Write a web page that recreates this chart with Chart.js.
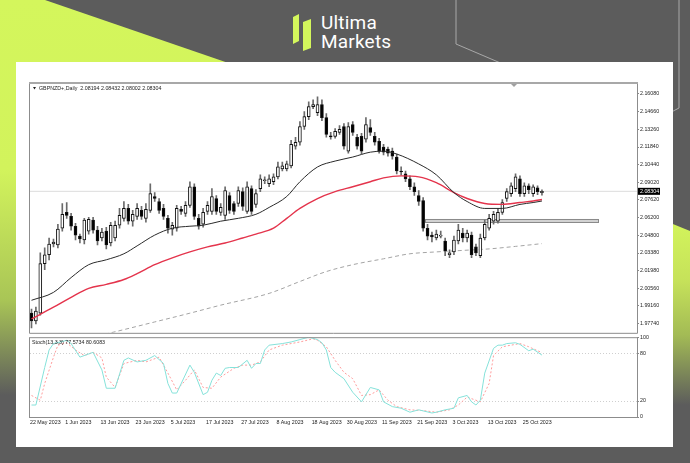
<!DOCTYPE html>
<html><head><meta charset="utf-8">
<script src="https://cdn.jsdelivr.net/npm/chart.js@4.4.0/dist/chart.umd.min.js"></script>
<style>
html,body{margin:0;padding:0;width:690px;height:463px;overflow:hidden;background:#5c5c5c;position:relative;font-family:'Liberation Sans',Arial,sans-serif}
#gl{position:absolute;left:0;top:0;width:690px;height:463px;background:linear-gradient(to bottom,#d4f65c 0px,#d2f35c 170px,#a9c556 300px,#5c5c5c 395px);clip-path:polygon(0 0,45px 0,260px 74px,260px 463px,0 463px)}
#gr{position:absolute;left:0;top:0;width:690px;height:463px;background:linear-gradient(to bottom,#d4f65c 215px,#c6e25a 280px,#a3bb55 335px,#5c5c5c 405px);clip-path:polygon(560px 178px,690px 231px,690px 463px,560px 463px)}
#deco{position:absolute;left:0;top:0}
#panel{position:absolute;left:16px;top:62px;width:657px;height:385px;background:#fff}
#c1{position:absolute;left:16px;top:62px}
#c2{position:absolute;left:16px;top:333px}
.lg{position:absolute;left:321px;color:#fff;font-family:Roboto,'Open Sans',sans-serif;font-size:19px;line-height:19px;letter-spacing:0.2px}
</style></head>
<body>
<div id="gl"></div><div id="gr"></div>
<svg id="deco" width="690" height="463">
<polyline points="456,0 456,44 545,82" fill="none" stroke="#a8a8a8" stroke-width="1"/>
<polyline points="679,0 679,108 660,118" fill="none" stroke="#a8a8a8" stroke-width="1"/>
<polygon points="293,17 299,14 299,41 293,44" fill="#d4f65c"/>
<polygon points="303,22 311,19 311,48 303,51" fill="#d4f65c"/>
</svg>
<div class="lg" style="top:13px">Ultima</div>
<div class="lg" style="top:32px">Markets</div>
<div id="panel"></div>
<canvas id="c1" width="657" height="275" style="width:657px;height:275px"></canvas>
<canvas id="c2" width="657" height="114" style="width:657px;height:114px"></canvas>
<script>
// ---------- data ----------
const symbolTitle = 'GBPNZD+,Daily  2.08194 2.08432 2.08002 2.08304';
const stochTitle = 'Stoch(13,3,3) 77.5734 80.6083';
const tickIndex = [0,8,16,24,32,40,48,56,64,72,80,88,96,104,112];
const tickLabels = ['22 May 2023','1 Jun 2023','13 Jun 2023','23 Jun 2023','5 Jul 2023','17 Jul 2023','27 Jul 2023','8 Aug 2023','18 Aug 2023','30 Aug 2023','11 Sep 2023','21 Sep 2023','3 Oct 2023','13 Oct 2023','25 Oct 2023'];
const priceTicks = [2.16080,2.14660,2.13260,2.11840,2.10440,2.09020,2.07620,2.06200,2.04800,2.03380,2.01980,2.00560,1.99160,1.97740];
const stochTicks = [0,20,80,100];
const lastPrice = 2.08304;

const opens = [1.9859,1.9796,1.9859,2.0253,2.0324,2.0410,2.0403,2.0536,2.0663,2.0631,
2.0552,2.0473,2.0442,2.0513,2.0600,2.0521,2.0458,2.0513,2.0418,2.0458,
2.0560,2.0615,2.0694,2.0592,2.0631,2.0678,2.0615,2.0678,2.0789,2.0749,
2.0694,2.0615,2.0529,2.0536,2.0686,2.0655,2.0718,2.0867,2.0615,2.0568,
2.0670,2.0670,2.0773,2.0663,2.0639,2.0797,2.0733,2.0733,2.0828,2.0670,
2.0852,2.0726,2.0852,2.0915,2.0891,2.0907,2.0946,2.1009,2.1009,2.1033,
2.1191,2.1222,2.1348,2.1427,2.1506,2.1458,2.1522,2.1419,2.1269,2.1269,
2.1301,2.1348,2.1151,2.1364,2.1262,2.1269,2.1246,2.1340,2.1269,2.1230,
2.1183,2.1167,2.1151,2.1104,2.0993,2.0970,2.0930,2.0867,2.0797,2.0757,
2.0536,2.0481,2.0458,2.0473,2.0434,2.0324,2.0347,2.0434,2.0497,2.0458,
2.0481,2.0387,2.0316,2.0458,2.0536,2.0592,2.0592,2.0663,2.0773,2.0812,
2.0852,2.0930,2.0812,2.0875,2.0812,2.0859,2.08194];
const highs = [1.9890,1.9906,2.0339,2.0379,2.0458,2.0450,2.0568,2.0733,2.0741,2.0655,
2.0576,2.0489,2.0615,2.0623,2.0623,2.0552,2.0536,2.0544,2.0584,2.0592,
2.0694,2.0749,2.0726,2.0678,2.0733,2.0710,2.0733,2.0891,2.0820,2.0773,
2.0726,2.0639,2.0584,2.0718,2.0710,2.0749,2.0907,2.0891,2.0647,2.0694,
2.0749,2.0852,2.0797,2.0733,2.0867,2.0820,2.0749,2.0867,2.0859,2.0907,
2.0875,2.0844,2.0962,2.0946,2.0962,2.0970,2.1064,2.1064,2.1072,2.1238,
2.1262,2.1388,2.1466,2.1545,2.1561,2.1584,2.1561,2.1451,2.1301,2.1332,
2.1356,2.1372,2.1380,2.1388,2.1285,2.1293,2.1419,2.1403,2.1301,2.1254,
2.1206,2.1183,2.1175,2.1128,2.1025,2.0993,2.0954,2.0899,2.0836,2.0781,
2.0568,2.0505,2.0521,2.0513,2.0458,2.0363,2.0473,2.0568,2.0536,2.0521,
2.0505,2.0410,2.0489,2.0600,2.0647,2.0670,2.0694,2.0765,2.0852,2.0899,
2.0970,2.0954,2.0899,2.0891,2.0883,2.0875,2.08432];
const lows = [1.9741,1.9772,1.9843,2.0206,2.0284,2.0387,2.0379,2.0513,2.0615,2.0521,
2.0442,2.0418,2.0410,2.0489,2.0497,2.0403,2.0434,2.0371,2.0395,2.0434,
2.0536,2.0592,2.0568,2.0552,2.0607,2.0607,2.0584,2.0663,2.0749,2.0655,
2.0607,2.0497,2.0481,2.0513,2.0647,2.0631,2.0702,2.0607,2.0529,2.0544,
2.0647,2.0647,2.0647,2.0639,2.0607,2.0655,2.0647,2.0710,2.0678,2.0655,
2.0647,2.0702,2.0828,2.0891,2.0867,2.0883,2.0930,2.0993,2.0993,2.1017,
2.1167,2.1198,2.1325,2.1403,2.1490,2.1435,2.1395,2.1262,2.1246,2.1254,
2.1285,2.1167,2.1135,2.1277,2.1167,2.1128,2.1222,2.1277,2.1198,2.1135,
2.1120,2.1112,2.1088,2.0970,2.0962,2.0907,2.0844,2.0797,2.0718,2.0513,
2.0442,2.0426,2.0442,2.0458,2.0316,2.0300,2.0324,2.0410,2.0426,2.0426,
2.0300,2.0316,2.0300,2.0442,2.0521,2.0568,2.0576,2.0647,2.0749,2.0789,
2.0828,2.0789,2.0789,2.0812,2.0789,2.0804,2.08002];
const closes = [1.9796,1.9875,2.0253,2.0324,2.0410,2.0426,2.0529,2.0647,2.0639,2.0552,
2.0481,2.0450,2.0600,2.0607,2.0521,2.0434,2.0505,2.0403,2.0560,2.0560,
2.0639,2.0694,2.0592,2.0647,2.0694,2.0631,2.0686,2.0812,2.0773,2.0678,
2.0631,2.0536,2.0560,2.0694,2.0670,2.0718,2.0867,2.0631,2.0552,2.0663,
2.0718,2.0789,2.0670,2.0702,2.0836,2.0678,2.0670,2.0836,2.0710,2.0867,
2.0670,2.0812,2.0930,2.0922,2.0930,2.0946,2.1025,2.1033,2.1049,2.1206,
2.1222,2.1348,2.1427,2.1506,2.1522,2.1522,2.1419,2.1285,2.1265,2.1309,
2.1325,2.1191,2.1348,2.1301,2.1191,2.1151,2.1364,2.1301,2.1222,2.1151,
2.1143,2.1135,2.1112,2.0993,2.0985,2.0930,2.0867,2.0828,2.0749,2.0536,
2.0473,2.0466,2.0489,2.0481,2.0355,2.0339,2.0442,2.0521,2.0458,2.0497,
2.0324,2.0339,2.0458,2.0568,2.0615,2.0647,2.0663,2.0741,2.0828,2.0875,
2.0946,2.0812,2.0875,2.0844,2.0867,2.0828,2.08304];

// moving averages read at sampled bars
const maBlackIdx = [0,5,9,13,17,21,24,28,32,36,39,43,47,51,54,58,61,65,69,73,77,80,83,88,92,96,99,103,107,111,114,116];
const maBlack    = [1.9961,2.0024,2.0142,2.0245,2.0284,2.0332,2.0395,2.0481,2.0536,2.0552,2.0560,2.0592,2.0615,2.0647,2.0702,2.0789,2.0907,2.1025,2.1072,2.1104,2.1143,2.1151,2.1128,2.1049,2.0962,2.0820,2.0749,2.0694,2.0694,2.0726,2.0741,2.0753];
const maRedIdx = [0,5,9,13,17,21,24,28,32,36,40,44,48,51,55,58,61,65,69,73,77,80,84,88,92,96,99,103,107,111,114,116];
const maRed    = [1.9812,1.9906,1.9985,2.0056,2.0088,2.0127,2.0174,2.0245,2.0300,2.0347,2.0387,2.0418,2.0458,2.0489,2.0536,2.0615,2.0694,2.0773,2.0828,2.0867,2.0907,2.0938,2.0954,2.0946,2.0899,2.0820,2.0773,2.0733,2.0726,2.0741,2.0753,2.0765];
const maGrayIdx = [12,17,28,36,43,54,61,67,73,80,86,92,98,104,110,116];
const maGray    = [1.9654,1.9693,1.9788,1.9858,1.9922,2.0016,2.0111,2.0190,2.0245,2.0292,2.0332,2.0347,2.0359,2.0371,2.0391,2.0413];

// stochastic %K and %D read at sampled bars
const kIdx = [0,1,3,4,5,8,9,11,14,16,17,19,21,22,24,26,28,30,31,32,33,36,37,39,40,41,42,43,44,45,47,49,50,51,52,53,54,57,59,61,63,65,66,67,68,69,71,73,75,77,79,80,82,84,86,88,91,92,94,96,97,99,100,101,102,103,105,106,107,108,110,111,113,114,116];
const kVals = [15,15,62,84,92,96,92,75,81,59,36,36,71,74,69,71,77,67,42,30,30,65,56,28,31,46,55,52,61,62,62,71,61,67,67,84,90,92,94,97,100,97,93,84,62,56,48,31,19,37,34,19,13,11,6,9,5,6,9,11,24,27,19,15,21,55,86,90,90,92,93,91,83,85,77.57];
const dIdx = [0,2,3,5,6,8,10,12,14,16,17,19,21,24,26,29,31,33,35,37,39,41,43,46,48,50,52,54,57,61,64,65,67,69,71,73,75,77,79,81,83,86,89,92,95,97,99,101,102,104,105,107,109,111,113,116];
const dVals = [27,21,42,75,90,93,84,77,81,74,50,37,67,71,69,75,55,34,46,59,37,36,50,61,65,65,69,84,90,94,98,96,88,71,56,48,27,28,34,21,13,9,8,6,9,15,25,21,19,42,77,88,90,92,88,80.61];

// support zone (rectangle object) in bar index / price units
const zoneFrom = 89.4, zoneTo = 128.8, zoneHi = 2.0610, zoneLo = 2.0584;

// ---------- chart ----------
const FONT = "'Liberation Sans', Arial, sans-serif";
const FS = 5.3;
Chart.defaults.font.family = FONT;
Chart.defaults.font.size = FS;
Chart.defaults.color = '#222';

const X_MIN = -0.34, X_MAX = 137.6;
const pts = (idx, vals) => idx.map((x, i) => ({x, y: vals[i]}));

const mainDecor = {
  id: 'mainDecor',
  beforeDatasetsDraw(chart) {
    const {ctx, scales:{x, y}} = chart;
    const x1 = x.getPixelForValue(zoneFrom), x2 = x.getPixelForValue(zoneTo);
    const y1 = y.getPixelForValue(zoneHi), y2 = y.getPixelForValue(zoneLo);
    ctx.save();
    ctx.fillStyle = '#d2d2d2';
    ctx.fillRect(x1, y1, x2 - x1, y2 - y1);
    ctx.strokeStyle = '#8a8a8a';
    ctx.lineWidth = 1;
    ctx.strokeRect(Math.round(x1)+0.5, Math.round(y1)+0.5, Math.round(x2-x1), Math.round(y2-y1));
    ctx.restore();
  },
  afterDraw(chart) {
    const {ctx, chartArea:a, scales:{y}} = chart;
    ctx.save();
    ctx.strokeStyle = '#8c8c8c'; ctx.lineWidth = 1;
    ctx.beginPath();
    ctx.moveTo(a.left - 0.5, a.top); ctx.lineTo(a.left - 0.5, a.bottom + 0.5);
    ctx.lineTo(a.right + 0.5, a.bottom + 0.5); ctx.lineTo(a.right + 0.5, a.top);
    ctx.stroke();
    ctx.strokeStyle = '#a8a8a8'; ctx.lineWidth = 2;
    ctx.beginPath(); ctx.moveTo(a.left - 1, a.top - 1); ctx.lineTo(a.right + 1, a.top - 1); ctx.stroke();
    // chart shift marker
    ctx.fillStyle = '#a0a0a0';
    ctx.beginPath(); ctx.moveTo(495, a.top); ctx.lineTo(501, a.top); ctx.lineTo(498, a.top + 3); ctx.closePath(); ctx.fill();
    // title
    ctx.fillStyle = '#222';
    ctx.beginPath(); ctx.moveTo(a.left + 3, a.top + 3); ctx.lineTo(a.left + 6, a.top + 3); ctx.lineTo(a.left + 4.5, a.top + 5.5); ctx.closePath(); ctx.fill();
    ctx.font = FS + 'px ' + FONT;
    ctx.textBaseline = 'middle';
    ctx.fillText(symbolTitle, a.left + 9, a.top + 4.5);
    // last price label
    const py = y.getPixelForValue(lastPrice);
    ctx.fillStyle = '#000';
    ctx.fillRect(a.right + 1, py - 3.5, 22, 7);
    ctx.fillStyle = '#fff';
    ctx.fillText(lastPrice.toFixed(5), a.right + 3, py + 0.3);
    ctx.restore();
  }
};

new Chart(document.getElementById('c1'), {
  type: 'bar',
  data: {
    datasets: [
      {type:'line', label:'MA black', data: pts(maBlackIdx, maBlack), borderColor:'#2a2a2a', borderWidth:1, pointRadius:0, cubicInterpolationMode:'monotone', order:1},
      {type:'line', label:'MA red', data: pts(maRedIdx, maRed), borderColor:'#e4344c', borderWidth:1.4, pointRadius:0, cubicInterpolationMode:'monotone', order:2},
      {type:'bar', label:'body', data: opens.map((o,i)=>({x:i, y:[o, closes[i]]})), grouped:false, barThickness:3, minBarLength:1,
        backgroundColor: ctx => (closes[ctx.dataIndex] >= opens[ctx.dataIndex] ? '#ffffff' : '#000000'),
        borderColor:'#111', borderWidth:1, borderSkipped:false, order:3},
      {type:'bar', label:'wick', data: lows.map((l,i)=>({x:i, y:[l, highs[i]]})), grouped:false, barThickness:1, backgroundColor:'#6a6a6a', borderWidth:0, order:4},
      {type:'line', label:'MA gray', data: pts(maGrayIdx, maGray), borderColor:'#a4a4a4', borderWidth:1, borderDash:[4,3], pointRadius:0, cubicInterpolationMode:'monotone', order:5},
      {type:'line', label:'bid', data:[{x:X_MIN, y:lastPrice},{x:X_MAX, y:lastPrice}], borderColor:'#dcdcdc', borderWidth:1, pointRadius:0, order:6}
    ]
  },
  options: {
    responsive:false, animation:false, devicePixelRatio:1,
    layout:{padding:{left:14, top:22, right:0, bottom:1}},
    plugins:{legend:{display:false}, tooltip:{enabled:false}},
    scales:{
      x:{type:'linear', min:X_MIN, max:X_MAX, offset:false, display:false},
      y:{type:'linear', position:'right', min:1.97012, max:2.16870, beginAtZero:false,
         afterBuildTicks: s => { s.ticks = priceTicks.map(v => ({value:v})); },
         afterFit: s => { s.width = 36; },
         ticks:{callback: v => Number(v).toFixed(5), padding:1, color:'#222', font:{size:FS}},
         grid:{drawOnChartArea:false, drawTicks:true, tickLength:2, color:'#888'},
         border:{display:false}}
    }
  },
  plugins:[mainDecor]
});

const stochDecor = {
  id:'stochDecor',
  afterDraw(chart) {
    const {ctx, chartArea:a} = chart;
    ctx.save();
    ctx.strokeStyle = '#8c8c8c'; ctx.lineWidth = 1;
    ctx.strokeRect(a.left - 0.5, a.top + 0.5, a.right - a.left + 1, a.bottom - a.top);
    ctx.fillStyle = '#222';
    ctx.font = FS + 'px ' + FONT;
    ctx.textBaseline = 'middle';
    ctx.fillText(stochTitle, a.left + 2, a.top + 5);
    ctx.restore();
  }
};

new Chart(document.getElementById('c2'), {
  type:'line',
  data:{
    datasets:[
      {label:'%K', data: pts(kIdx, kVals), borderColor:'#86e2da', borderWidth:1, pointRadius:0, tension:0, order:1},
      {label:'%D', data: pts(dIdx, dVals), borderColor:'#ff9c9c', borderWidth:1, borderDash:[2,2], pointRadius:0, tension:0, order:2}
    ]
  },
  options:{
    responsive:false, animation:false, devicePixelRatio:1,
    layout:{padding:{left:14, top:4, right:0, bottom:0}},
    plugins:{legend:{display:false}, tooltip:{enabled:false}},
    scales:{
      x:{type:'linear', min:X_MIN, max:X_MAX, offset:false,
         afterBuildTicks: s => { s.ticks = tickIndex.map(v => ({value:v})); },
         afterFit: s => { s.height = 30; },
         ticks:{callback: v => tickLabels[tickIndex.indexOf(v)], align:'start', labelOffset:-1.5, padding:2, autoSkip:false, maxRotation:0, minRotation:0, color:'#222', font:{size:FS}},
         grid:{display:false, drawTicks:false, tickLength:0}, border:{display:false}},
      y:{type:'linear', position:'right', min:0, max:100,
         afterBuildTicks: s => { s.ticks = stochTicks.map(v => ({value:v})); },
         afterFit: s => { s.width = 36; },
         ticks:{callback: v => String(v), padding:1, color:'#222', font:{size:FS}},
         grid:{drawTicks:true, tickLength:2, tickColor:'#888', color: c => (c.tick && (c.tick.value === 20 || c.tick.value === 80)) ? '#cfcfcf' : 'rgba(0,0,0,0)'},
         border:{display:false, dash:[1,2]}}
    }
  },
  plugins:[stochDecor]
});
</script>
</body></html>
